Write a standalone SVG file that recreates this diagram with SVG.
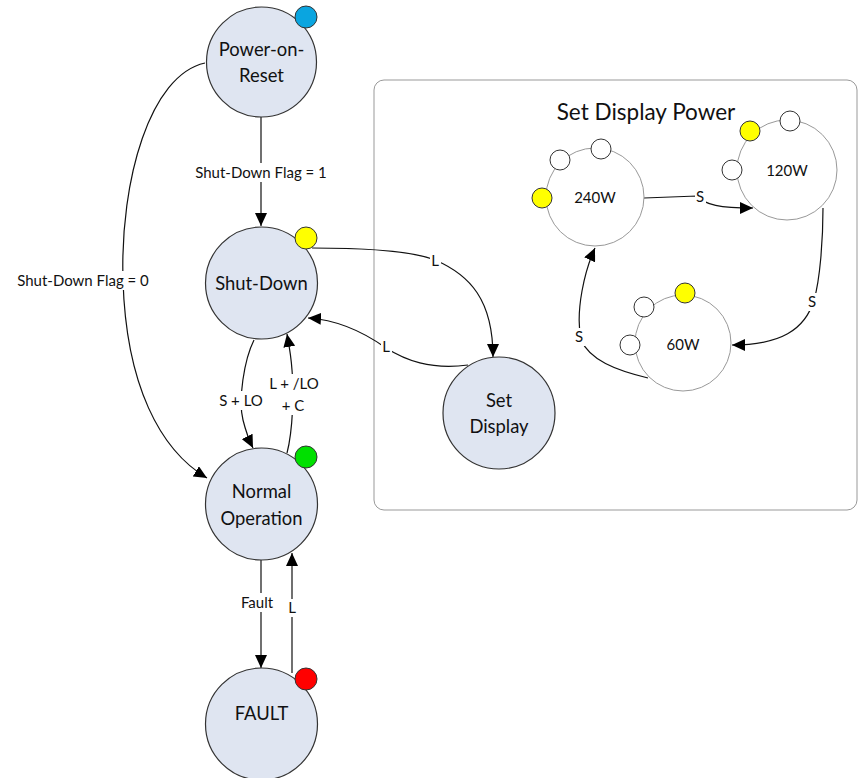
<svg xmlns="http://www.w3.org/2000/svg" width="859" height="778" viewBox="0 0 859 778">
<defs>
<marker id="ah" markerUnits="userSpaceOnUse" markerWidth="14" markerHeight="12" refX="13" refY="6" orient="auto">
<path d="M0,0 L13,6 L0,12 z" fill="#000"/>
</marker>
<style>
.node{fill:#dfe5f1;stroke:#333;stroke-width:1.2}
.sub{fill:#fff;stroke:#999;stroke-width:1}
.dot{stroke:#333;stroke-width:1}
.wdot{fill:#fff;stroke:#333;stroke-width:1}
.nt{font-family:Lato,"Open Sans",sans-serif;font-size:18.4px;fill:#111;text-anchor:middle}
.st{font-family:Lato,"Open Sans",sans-serif;font-size:15px;fill:#111;text-anchor:middle}
.lb{font-family:Lato,"Open Sans",sans-serif;font-size:15px;fill:#111;text-anchor:middle}
.bg{fill:#fff}
.c{fill:none;stroke:#111;stroke-width:1.2}
</style>
</defs>
<rect x="0" y="0" width="859" height="778" fill="#fff"/>
<g id="frame">
<rect x="374" y="80" width="483" height="430" rx="10" fill="none" stroke="#999" stroke-width="1"/>
<text x="646" y="120" font-family="Lato,'Open Sans',sans-serif" font-size="22.5" fill="#111" text-anchor="middle">Set Display Power</text>
</g>
<g id="connectors">
<path class="c" d="M261,117 L261,226" marker-end="url(#ah)"/>
<path class="c" d="M205,63 C150,75 120,180 123,280 C126,385 160,450 207,478" marker-end="url(#ah)"/>
<path class="c" d="M254,340 C244,360 238,400 243,420 C246,432 249,440 253,448" marker-end="url(#ah)"/>
<path class="c" d="M287,453 C293,430 294,390 292,370 C291,355 289,345 287,334" marker-end="url(#ah)"/>
<path class="c" d="M312,248 C360,248 410,250 435,260 C470,275 493,300 493,357" marker-end="url(#ah)"/>
<path class="c" d="M468,365 C430,370 405,360 386,348 C365,333 340,320 308,318" marker-end="url(#ah)"/>
<path class="c" d="M261,560 L261,668" marker-end="url(#ah)"/>
<path class="c" d="M292,673 L292,553" marker-end="url(#ah)"/>
<path class="c" d="M644,198 L697,196 C705,205 720,208 753,208" marker-end="url(#ah)"/>
<path class="c" d="M823,208 C823,240 820,280 814,300 C805,330 780,345 732,345" marker-end="url(#ah)"/>
<path class="c" d="M648,378 C615,370 590,360 581,340 C575,310 585,270 595,248" marker-end="url(#ah)"/>
<rect class="bg" x="191" y="163" width="140" height="19"/>
<rect class="bg" x="12" y="271" width="143" height="19"/>
<rect class="bg" x="217" y="391" width="48" height="19"/>
<rect class="bg" x="268" y="374" width="52" height="41"/>
<rect class="bg" x="430" y="252" width="11" height="18"/>
<rect class="bg" x="381" y="338" width="11" height="18"/>
<rect class="bg" x="239" y="593" width="37" height="19"/>
<rect class="bg" x="287" y="599" width="11" height="18"/>
<rect class="bg" x="695" y="188" width="11" height="18"/>
<rect class="bg" x="807" y="293" width="11" height="18"/>
<rect class="bg" x="574" y="328" width="11" height="18"/>
<text class="lb" x="261" y="178">Shut-Down Flag = 1</text>
<text class="lb" x="83" y="286">Shut-Down Flag = 0</text>
<text class="lb" x="241" y="406">S + LO</text>
<text class="lb" x="294" y="389">L + /LO</text>
<text class="lb" x="293" y="411">+ C</text>
<text class="lb" x="435" y="266">L</text>
<text class="lb" x="386" y="352">L</text>
<text class="lb" x="257" y="608">Fault</text>
<text class="lb" x="292" y="613">L</text>
<text class="lb" x="700" y="202">S</text>
<text class="lb" x="812" y="307">S</text>
<text class="lb" x="579" y="342">S</text>
</g>
<g id="power-on-reset">
<circle class="node" cx="261.5" cy="62" r="55"/>
<circle class="dot" cx="306" cy="17" r="11" fill="#0aa5e0"/>
<text class="nt" x="261.5" y="56">Power-on-</text>
<text class="nt" x="261.5" y="82">Reset</text>
</g>
<g id="shut-down">
<circle class="node" cx="261.5" cy="283" r="56"/>
<circle class="dot" cx="306" cy="238" r="11" fill="#ffff00"/>
<text class="nt" x="261.5" y="290">Shut-Down</text>
</g>
<g id="normal-operation">
<circle class="node" cx="261.5" cy="504" r="56"/>
<circle class="dot" cx="306" cy="457" r="11" fill="#00e000"/>
<text class="nt" x="261.5" y="498">Normal</text>
<text class="nt" x="261.5" y="525">Operation</text>
</g>
<g id="fault">
<circle class="node" cx="261.5" cy="724" r="56"/>
<circle class="dot" cx="306" cy="679" r="11" fill="#ff0000"/>
<text class="nt" x="261.5" y="720">FAULT</text>
</g>
<g id="set-display">
<circle class="node" cx="499" cy="413" r="56"/>
<text class="nt" x="499" y="407">Set</text>
<text class="nt" x="499" y="433">Display</text>
</g>
<g id="w240">
<circle class="sub" cx="595" cy="197" r="49"/>
<circle class="dot" cx="542" cy="198" r="10" fill="#ffff00"/>
<circle class="wdot" cx="560" cy="160" r="10"/>
<circle class="wdot" cx="601" cy="149" r="10"/>
<text class="st" x="595" y="203">240W</text>
</g>
<g id="w120">
<circle class="sub" cx="787" cy="170" r="50"/>
<circle class="dot" cx="750" cy="131" r="10" fill="#ffff00"/>
<circle class="wdot" cx="790" cy="121" r="10"/>
<circle class="wdot" cx="732" cy="170" r="10"/>
<text class="st" x="787" y="176">120W</text>
</g>
<g id="w60">
<circle class="sub" cx="683" cy="343" r="48"/>
<circle class="dot" cx="685" cy="293" r="10" fill="#ffff00"/>
<circle class="wdot" cx="644" cy="307" r="10"/>
<circle class="wdot" cx="630" cy="345" r="10"/>
<text class="st" x="683" y="350">60W</text>
</g>
</svg>
